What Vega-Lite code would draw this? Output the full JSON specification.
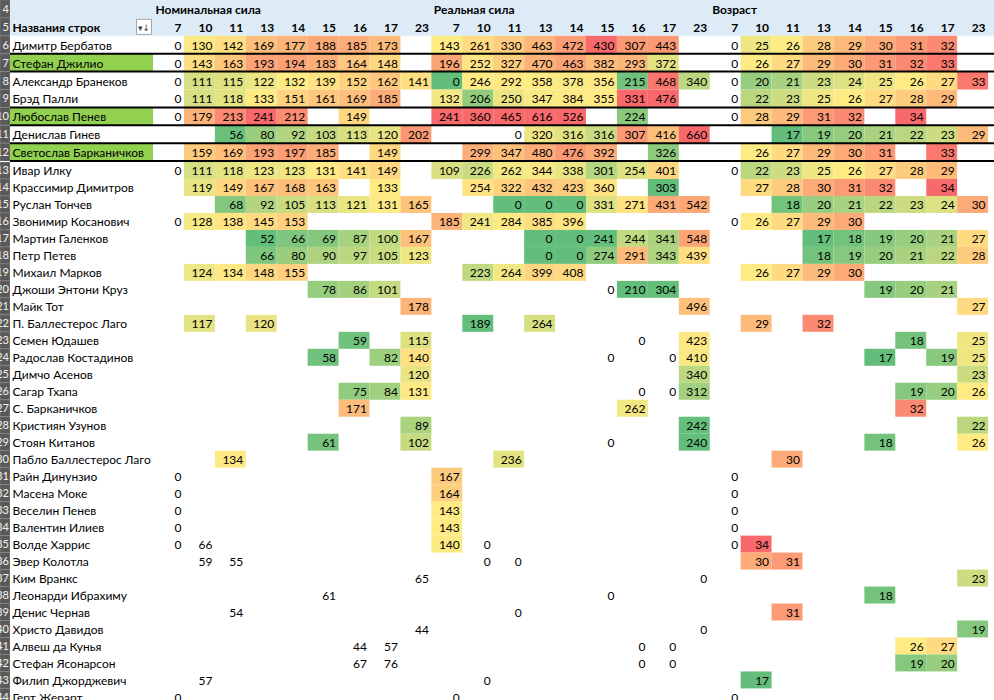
{
  "$schema": "https://vega.github.io/schema/vega-lite/v6.json",
  "background": "white",
  "padding": 0,
  "spacing": 0,
  "bounds": "flush",
  "columns": 3,
  "resolve": {"scale": {"x": "independent", "y": "independent", "color": "independent"}},
  "config": {
    "view": {"stroke": null},
    "text": {"font": "Lato", "fontSize": 12, "baseline": "middle", "color": "#000000"}
  },
  "datasets": {
    "hdr": [
      {"n": "h4", "r": 4, "t": ""},
      {"n": "h5", "r": 5, "t": "Названия строк"}
    ],
    "players": [
      {"n": "Димитр Бербатов", "r": 6},
      {"n": "Стефан Джилио", "r": 7},
      {"n": "Александр Бранеков", "r": 8},
      {"n": "Брэд Палли", "r": 9},
      {"n": "Любослав Пенев", "r": 10},
      {"n": "Денислав Гинев", "r": 11},
      {"n": "Светослав Барканичков", "r": 12},
      {"n": "Ивар Илку", "r": 13},
      {"n": "Крассимир Димитров", "r": 14},
      {"n": "Руслан Тончев", "r": 15},
      {"n": "Звонимир Косанович", "r": 16},
      {"n": "Мартин Галенков", "r": 17},
      {"n": "Петр Петев", "r": 18},
      {"n": "Михаил Марков", "r": 19},
      {"n": "Джоши Энтони Круз", "r": 20},
      {"n": "Майк Тот", "r": 21},
      {"n": "П. Баллестерос Лаго", "r": 22},
      {"n": "Семен Юдашев", "r": 23},
      {"n": "Радослав Костадинов", "r": 24},
      {"n": "Димчо Асенов", "r": 25},
      {"n": "Сагар Тхапа", "r": 26},
      {"n": "С. Барканичков", "r": 27},
      {"n": "Кристиян Узунов", "r": 28},
      {"n": "Стоян Китанов", "r": 29},
      {"n": "Пабло Баллестерос Лаго", "r": 30},
      {"n": "Райн Динунзио", "r": 31},
      {"n": "Масена Моке", "r": 32},
      {"n": "Веселин Пенев", "r": 33},
      {"n": "Валентин Илиев", "r": 34},
      {"n": "Волде Харрис", "r": 35},
      {"n": "Эвер Колотла", "r": 36},
      {"n": "Ким Вранкс", "r": 37},
      {"n": "Леонарди Ибрахиму", "r": 38},
      {"n": "Денис Чернав", "r": 39},
      {"n": "Христо Давидов", "r": 40},
      {"n": "Алвеш да Кунья", "r": 41},
      {"n": "Стефан Ясонарсон", "r": 42},
      {"n": "Филип Джорджевич", "r": 43},
      {"n": "Герт Жерарт", "r": 44}
    ],
    "cols": [
      {"c": "N7", "k": "7"}, {"c": "N10", "k": "10"}, {"c": "N11", "k": "11"}, {"c": "N13", "k": "13"}, {"c": "N14", "k": "14"}, {"c": "N15", "k": "15"}, {"c": "N16", "k": "16"}, {"c": "N17", "k": "17"}, {"c": "N23", "k": "23"},
      {"c": "R7", "k": "7"}, {"c": "R10", "k": "10"}, {"c": "R11", "k": "11"}, {"c": "R13", "k": "13"}, {"c": "R14", "k": "14"}, {"c": "R15", "k": "15"}, {"c": "R16", "k": "16"}, {"c": "R17", "k": "17"}, {"c": "R23", "k": "23"},
      {"c": "V7", "k": "7"}, {"c": "V10", "k": "10"}, {"c": "V11", "k": "11"}, {"c": "V13", "k": "13"}, {"c": "V14", "k": "14"}, {"c": "V15", "k": "15"}, {"c": "V16", "k": "16"}, {"c": "V17", "k": "17"}, {"c": "V23", "k": "23"}
    ],
    "groups": [
      {"c": "N7", "t": "Номинальная сила"},
      {"c": "R7", "t": "Реальная сила"},
      {"c": "V7", "t": "Возраст"}
    ],
    "cells": [
      {"n": "Димитр Бербатов", "c": "N10", "v": 130}, {"n": "Димитр Бербатов", "c": "N11", "v": 142}, {"n": "Димитр Бербатов", "c": "N13", "v": 169}, {"n": "Димитр Бербатов", "c": "N14", "v": 177}, {"n": "Димитр Бербатов", "c": "N15", "v": 188}, {"n": "Димитр Бербатов", "c": "N16", "v": 185}, {"n": "Димитр Бербатов", "c": "N17", "v": 173},
      {"n": "Димитр Бербатов", "c": "R7", "v": 143}, {"n": "Димитр Бербатов", "c": "R10", "v": 261}, {"n": "Димитр Бербатов", "c": "R11", "v": 330}, {"n": "Димитр Бербатов", "c": "R13", "v": 463}, {"n": "Димитр Бербатов", "c": "R14", "v": 472}, {"n": "Димитр Бербатов", "c": "R15", "v": 430}, {"n": "Димитр Бербатов", "c": "R16", "v": 307}, {"n": "Димитр Бербатов", "c": "R17", "v": 443},
      {"n": "Димитр Бербатов", "c": "V10", "v": 25}, {"n": "Димитр Бербатов", "c": "V11", "v": 26}, {"n": "Димитр Бербатов", "c": "V13", "v": 28}, {"n": "Димитр Бербатов", "c": "V14", "v": 29}, {"n": "Димитр Бербатов", "c": "V15", "v": 30}, {"n": "Димитр Бербатов", "c": "V16", "v": 31}, {"n": "Димитр Бербатов", "c": "V17", "v": 32},

      {"n": "Стефан Джилио", "c": "N10", "v": 143}, {"n": "Стефан Джилио", "c": "N11", "v": 163}, {"n": "Стефан Джилио", "c": "N13", "v": 193}, {"n": "Стефан Джилио", "c": "N14", "v": 194}, {"n": "Стефан Джилио", "c": "N15", "v": 183}, {"n": "Стефан Джилио", "c": "N16", "v": 164}, {"n": "Стефан Джилио", "c": "N17", "v": 148},
      {"n": "Стефан Джилио", "c": "R7", "v": 196}, {"n": "Стефан Джилио", "c": "R10", "v": 252}, {"n": "Стефан Джилио", "c": "R11", "v": 327}, {"n": "Стефан Джилио", "c": "R13", "v": 470}, {"n": "Стефан Джилио", "c": "R14", "v": 463}, {"n": "Стефан Джилио", "c": "R15", "v": 382}, {"n": "Стефан Джилио", "c": "R16", "v": 293}, {"n": "Стефан Джилио", "c": "R17", "v": 372},
      {"n": "Стефан Джилио", "c": "V10", "v": 26}, {"n": "Стефан Джилио", "c": "V11", "v": 27}, {"n": "Стефан Джилио", "c": "V13", "v": 29}, {"n": "Стефан Джилио", "c": "V14", "v": 30}, {"n": "Стефан Джилио", "c": "V15", "v": 31}, {"n": "Стефан Джилио", "c": "V16", "v": 32}, {"n": "Стефан Джилио", "c": "V17", "v": 33},

      {"n": "Александр Бранеков", "c": "N10", "v": 111}, {"n": "Александр Бранеков", "c": "N11", "v": 115}, {"n": "Александр Бранеков", "c": "N13", "v": 122}, {"n": "Александр Бранеков", "c": "N14", "v": 132}, {"n": "Александр Бранеков", "c": "N15", "v": 139}, {"n": "Александр Бранеков", "c": "N16", "v": 152}, {"n": "Александр Бранеков", "c": "N17", "v": 162}, {"n": "Александр Бранеков", "c": "N23", "v": 141},
      {"n": "Александр Бранеков", "c": "R7", "v": 0}, {"n": "Александр Бранеков", "c": "R10", "v": 246}, {"n": "Александр Бранеков", "c": "R11", "v": 292}, {"n": "Александр Бранеков", "c": "R13", "v": 358}, {"n": "Александр Бранеков", "c": "R14", "v": 378}, {"n": "Александр Бранеков", "c": "R15", "v": 356}, {"n": "Александр Бранеков", "c": "R16", "v": 215}, {"n": "Александр Бранеков", "c": "R17", "v": 468}, {"n": "Александр Бранеков", "c": "R23", "v": 340},
      {"n": "Александр Бранеков", "c": "V10", "v": 20}, {"n": "Александр Бранеков", "c": "V11", "v": 21}, {"n": "Александр Бранеков", "c": "V13", "v": 23}, {"n": "Александр Бранеков", "c": "V14", "v": 24}, {"n": "Александр Бранеков", "c": "V15", "v": 25}, {"n": "Александр Бранеков", "c": "V16", "v": 26}, {"n": "Александр Бранеков", "c": "V17", "v": 27}, {"n": "Александр Бранеков", "c": "V23", "v": 33},

      {"n": "Брэд Палли", "c": "N10", "v": 111}, {"n": "Брэд Палли", "c": "N11", "v": 118}, {"n": "Брэд Палли", "c": "N13", "v": 133}, {"n": "Брэд Палли", "c": "N14", "v": 151}, {"n": "Брэд Палли", "c": "N15", "v": 161}, {"n": "Брэд Палли", "c": "N16", "v": 169}, {"n": "Брэд Палли", "c": "N17", "v": 185},
      {"n": "Брэд Палли", "c": "R7", "v": 132}, {"n": "Брэд Палли", "c": "R10", "v": 206}, {"n": "Брэд Палли", "c": "R11", "v": 250}, {"n": "Брэд Палли", "c": "R13", "v": 347}, {"n": "Брэд Палли", "c": "R14", "v": 384}, {"n": "Брэд Палли", "c": "R15", "v": 355}, {"n": "Брэд Палли", "c": "R16", "v": 331}, {"n": "Брэд Палли", "c": "R17", "v": 476},
      {"n": "Брэд Палли", "c": "V10", "v": 22}, {"n": "Брэд Палли", "c": "V11", "v": 23}, {"n": "Брэд Палли", "c": "V13", "v": 25}, {"n": "Брэд Палли", "c": "V14", "v": 26}, {"n": "Брэд Палли", "c": "V15", "v": 27}, {"n": "Брэд Палли", "c": "V16", "v": 28}, {"n": "Брэд Палли", "c": "V17", "v": 29},

      {"n": "Любослав Пенев", "c": "N10", "v": 179}, {"n": "Любослав Пенев", "c": "N11", "v": 213}, {"n": "Любослав Пенев", "c": "N13", "v": 241}, {"n": "Любослав Пенев", "c": "N14", "v": 212}, {"n": "Любослав Пенев", "c": "N16", "v": 149},
      {"n": "Любослав Пенев", "c": "R7", "v": 241}, {"n": "Любослав Пенев", "c": "R10", "v": 360}, {"n": "Любослав Пенев", "c": "R11", "v": 465}, {"n": "Любослав Пенев", "c": "R13", "v": 616}, {"n": "Любослав Пенев", "c": "R14", "v": 526}, {"n": "Любослав Пенев", "c": "R16", "v": 224},
      {"n": "Любослав Пенев", "c": "V10", "v": 28}, {"n": "Любослав Пенев", "c": "V11", "v": 29}, {"n": "Любослав Пенев", "c": "V13", "v": 31}, {"n": "Любослав Пенев", "c": "V14", "v": 32}, {"n": "Любослав Пенев", "c": "V16", "v": 34},

      {"n": "Денислав Гинев", "c": "N11", "v": 56}, {"n": "Денислав Гинев", "c": "N13", "v": 80}, {"n": "Денислав Гинев", "c": "N14", "v": 92}, {"n": "Денислав Гинев", "c": "N15", "v": 103}, {"n": "Денислав Гинев", "c": "N16", "v": 113}, {"n": "Денислав Гинев", "c": "N17", "v": 120}, {"n": "Денислав Гинев", "c": "N23", "v": 202},
      {"n": "Денислав Гинев", "c": "R13", "v": 320}, {"n": "Денислав Гинев", "c": "R14", "v": 316}, {"n": "Денислав Гинев", "c": "R15", "v": 316}, {"n": "Денислав Гинев", "c": "R16", "v": 307}, {"n": "Денислав Гинев", "c": "R17", "v": 416}, {"n": "Денислав Гинев", "c": "R23", "v": 660},
      {"n": "Денислав Гинев", "c": "V11", "v": 17}, {"n": "Денислав Гинев", "c": "V13", "v": 19}, {"n": "Денислав Гинев", "c": "V14", "v": 20}, {"n": "Денислав Гинев", "c": "V15", "v": 21}, {"n": "Денислав Гинев", "c": "V16", "v": 22}, {"n": "Денислав Гинев", "c": "V17", "v": 23}, {"n": "Денислав Гинев", "c": "V23", "v": 29},

      {"n": "Светослав Барканичков", "c": "N10", "v": 159}, {"n": "Светослав Барканичков", "c": "N11", "v": 169}, {"n": "Светослав Барканичков", "c": "N13", "v": 193}, {"n": "Светослав Барканичков", "c": "N14", "v": 197}, {"n": "Светослав Барканичков", "c": "N15", "v": 185}, {"n": "Светослав Барканичков", "c": "N17", "v": 149},
      {"n": "Светослав Барканичков", "c": "R10", "v": 299}, {"n": "Светослав Барканичков", "c": "R11", "v": 347}, {"n": "Светослав Барканичков", "c": "R13", "v": 480}, {"n": "Светослав Барканичков", "c": "R14", "v": 476}, {"n": "Светослав Барканичков", "c": "R15", "v": 392}, {"n": "Светослав Барканичков", "c": "R17", "v": 326},
      {"n": "Светослав Барканичков", "c": "V10", "v": 26}, {"n": "Светослав Барканичков", "c": "V11", "v": 27}, {"n": "Светослав Барканичков", "c": "V13", "v": 29}, {"n": "Светослав Барканичков", "c": "V14", "v": 30}, {"n": "Светослав Барканичков", "c": "V15", "v": 31}, {"n": "Светослав Барканичков", "c": "V17", "v": 33},

      {"n": "Ивар Илку", "c": "N10", "v": 111}, {"n": "Ивар Илку", "c": "N11", "v": 118}, {"n": "Ивар Илку", "c": "N13", "v": 123}, {"n": "Ивар Илку", "c": "N14", "v": 123}, {"n": "Ивар Илку", "c": "N15", "v": 131}, {"n": "Ивар Илку", "c": "N16", "v": 141}, {"n": "Ивар Илку", "c": "N17", "v": 149},
      {"n": "Ивар Илку", "c": "R7", "v": 109}, {"n": "Ивар Илку", "c": "R10", "v": 226}, {"n": "Ивар Илку", "c": "R11", "v": 262}, {"n": "Ивар Илку", "c": "R13", "v": 344}, {"n": "Ивар Илку", "c": "R14", "v": 338}, {"n": "Ивар Илку", "c": "R15", "v": 301}, {"n": "Ивар Илку", "c": "R16", "v": 254}, {"n": "Ивар Илку", "c": "R17", "v": 401},
      {"n": "Ивар Илку", "c": "V10", "v": 22}, {"n": "Ивар Илку", "c": "V11", "v": 23}, {"n": "Ивар Илку", "c": "V13", "v": 25}, {"n": "Ивар Илку", "c": "V14", "v": 26}, {"n": "Ивар Илку", "c": "V15", "v": 27}, {"n": "Ивар Илку", "c": "V16", "v": 28}, {"n": "Ивар Илку", "c": "V17", "v": 29},

      {"n": "Крассимир Димитров", "c": "N10", "v": 119}, {"n": "Крассимир Димитров", "c": "N11", "v": 149}, {"n": "Крассимир Димитров", "c": "N13", "v": 167}, {"n": "Крассимир Димитров", "c": "N14", "v": 168}, {"n": "Крассимир Димитров", "c": "N15", "v": 163}, {"n": "Крассимир Димитров", "c": "N17", "v": 133},
      {"n": "Крассимир Димитров", "c": "R10", "v": 254}, {"n": "Крассимир Димитров", "c": "R11", "v": 322}, {"n": "Крассимир Димитров", "c": "R13", "v": 432}, {"n": "Крассимир Димитров", "c": "R14", "v": 423}, {"n": "Крассимир Димитров", "c": "R15", "v": 360}, {"n": "Крассимир Димитров", "c": "R17", "v": 303},
      {"n": "Крассимир Димитров", "c": "V10", "v": 27}, {"n": "Крассимир Димитров", "c": "V11", "v": 28}, {"n": "Крассимир Димитров", "c": "V13", "v": 30}, {"n": "Крассимир Димитров", "c": "V14", "v": 31}, {"n": "Крассимир Димитров", "c": "V15", "v": 32}, {"n": "Крассимир Димитров", "c": "V17", "v": 34},

      {"n": "Руслан Тончев", "c": "N11", "v": 68}, {"n": "Руслан Тончев", "c": "N13", "v": 92}, {"n": "Руслан Тончев", "c": "N14", "v": 105}, {"n": "Руслан Тончев", "c": "N15", "v": 113}, {"n": "Руслан Тончев", "c": "N16", "v": 121}, {"n": "Руслан Тончев", "c": "N17", "v": 131}, {"n": "Руслан Тончев", "c": "N23", "v": 165},
      {"n": "Руслан Тончев", "c": "R11", "v": 0}, {"n": "Руслан Тончев", "c": "R13", "v": 0}, {"n": "Руслан Тончев", "c": "R14", "v": 0}, {"n": "Руслан Тончев", "c": "R15", "v": 331}, {"n": "Руслан Тончев", "c": "R16", "v": 271}, {"n": "Руслан Тончев", "c": "R17", "v": 431}, {"n": "Руслан Тончев", "c": "R23", "v": 542},
      {"n": "Руслан Тончев", "c": "V11", "v": 18}, {"n": "Руслан Тончев", "c": "V13", "v": 20}, {"n": "Руслан Тончев", "c": "V14", "v": 21}, {"n": "Руслан Тончев", "c": "V15", "v": 22}, {"n": "Руслан Тончев", "c": "V16", "v": 23}, {"n": "Руслан Тончев", "c": "V17", "v": 24}, {"n": "Руслан Тончев", "c": "V23", "v": 30},

      {"n": "Звонимир Косанович", "c": "N10", "v": 128}, {"n": "Звонимир Косанович", "c": "N11", "v": 138}, {"n": "Звонимир Косанович", "c": "N13", "v": 145}, {"n": "Звонимир Косанович", "c": "N14", "v": 153},
      {"n": "Звонимир Косанович", "c": "R7", "v": 185}, {"n": "Звонимир Косанович", "c": "R10", "v": 241}, {"n": "Звонимир Косанович", "c": "R11", "v": 284}, {"n": "Звонимир Косанович", "c": "R13", "v": 385}, {"n": "Звонимир Косанович", "c": "R14", "v": 396},
      {"n": "Звонимир Косанович", "c": "V10", "v": 26}, {"n": "Звонимир Косанович", "c": "V11", "v": 27}, {"n": "Звонимир Косанович", "c": "V13", "v": 29}, {"n": "Звонимир Косанович", "c": "V14", "v": 30},

      {"n": "Мартин Галенков", "c": "N13", "v": 52}, {"n": "Мартин Галенков", "c": "N14", "v": 66}, {"n": "Мартин Галенков", "c": "N15", "v": 69}, {"n": "Мартин Галенков", "c": "N16", "v": 87}, {"n": "Мартин Галенков", "c": "N17", "v": 100}, {"n": "Мартин Галенков", "c": "N23", "v": 167},
      {"n": "Мартин Галенков", "c": "R13", "v": 0}, {"n": "Мартин Галенков", "c": "R14", "v": 0}, {"n": "Мартин Галенков", "c": "R15", "v": 241}, {"n": "Мартин Галенков", "c": "R16", "v": 244}, {"n": "Мартин Галенков", "c": "R17", "v": 341}, {"n": "Мартин Галенков", "c": "R23", "v": 548},
      {"n": "Мартин Галенков", "c": "V13", "v": 17}, {"n": "Мартин Галенков", "c": "V14", "v": 18}, {"n": "Мартин Галенков", "c": "V15", "v": 19}, {"n": "Мартин Галенков", "c": "V16", "v": 20}, {"n": "Мартин Галенков", "c": "V17", "v": 21}, {"n": "Мартин Галенков", "c": "V23", "v": 27},

      {"n": "Петр Петев", "c": "N13", "v": 66}, {"n": "Петр Петев", "c": "N14", "v": 80}, {"n": "Петр Петев", "c": "N15", "v": 90}, {"n": "Петр Петев", "c": "N16", "v": 97}, {"n": "Петр Петев", "c": "N17", "v": 105}, {"n": "Петр Петев", "c": "N23", "v": 123},
      {"n": "Петр Петев", "c": "R13", "v": 0}, {"n": "Петр Петев", "c": "R14", "v": 0}, {"n": "Петр Петев", "c": "R15", "v": 274}, {"n": "Петр Петев", "c": "R16", "v": 291}, {"n": "Петр Петев", "c": "R17", "v": 343}, {"n": "Петр Петев", "c": "R23", "v": 439},
      {"n": "Петр Петев", "c": "V13", "v": 18}, {"n": "Петр Петев", "c": "V14", "v": 19}, {"n": "Петр Петев", "c": "V15", "v": 20}, {"n": "Петр Петев", "c": "V16", "v": 21}, {"n": "Петр Петев", "c": "V17", "v": 22}, {"n": "Петр Петев", "c": "V23", "v": 28},

      {"n": "Михаил Марков", "c": "N10", "v": 124}, {"n": "Михаил Марков", "c": "N11", "v": 134}, {"n": "Михаил Марков", "c": "N13", "v": 148}, {"n": "Михаил Марков", "c": "N14", "v": 155},
      {"n": "Михаил Марков", "c": "R10", "v": 223}, {"n": "Михаил Марков", "c": "R11", "v": 264}, {"n": "Михаил Марков", "c": "R13", "v": 399}, {"n": "Михаил Марков", "c": "R14", "v": 408},
      {"n": "Михаил Марков", "c": "V10", "v": 26}, {"n": "Михаил Марков", "c": "V11", "v": 27}, {"n": "Михаил Марков", "c": "V13", "v": 29}, {"n": "Михаил Марков", "c": "V14", "v": 30},

      {"n": "Джоши Энтони Круз", "c": "N15", "v": 78}, {"n": "Джоши Энтони Круз", "c": "N16", "v": 86}, {"n": "Джоши Энтони Круз", "c": "N17", "v": 101},
      {"n": "Джоши Энтони Круз", "c": "R16", "v": 210}, {"n": "Джоши Энтони Круз", "c": "R17", "v": 304},
      {"n": "Джоши Энтони Круз", "c": "V15", "v": 19}, {"n": "Джоши Энтони Круз", "c": "V16", "v": 20}, {"n": "Джоши Энтони Круз", "c": "V17", "v": 21},

      {"n": "Майк Тот", "c": "N23", "v": 178}, {"n": "Майк Тот", "c": "R23", "v": 496}, {"n": "Майк Тот", "c": "V23", "v": 27},

      {"n": "П. Баллестерос Лаго", "c": "N10", "v": 117}, {"n": "П. Баллестерос Лаго", "c": "N13", "v": 120},
      {"n": "П. Баллестерос Лаго", "c": "R10", "v": 189}, {"n": "П. Баллестерос Лаго", "c": "R13", "v": 264},
      {"n": "П. Баллестерос Лаго", "c": "V10", "v": 29}, {"n": "П. Баллестерос Лаго", "c": "V13", "v": 32},

      {"n": "Семен Юдашев", "c": "N16", "v": 59}, {"n": "Семен Юдашев", "c": "N23", "v": 115}, {"n": "Семен Юдашев", "c": "R23", "v": 423}, {"n": "Семен Юдашев", "c": "V16", "v": 18}, {"n": "Семен Юдашев", "c": "V23", "v": 25},

      {"n": "Радослав Костадинов", "c": "N15", "v": 58}, {"n": "Радослав Костадинов", "c": "N17", "v": 82}, {"n": "Радослав Костадинов", "c": "N23", "v": 140}, {"n": "Радослав Костадинов", "c": "R23", "v": 410},
      {"n": "Радослав Костадинов", "c": "V15", "v": 17}, {"n": "Радослав Костадинов", "c": "V17", "v": 19}, {"n": "Радослав Костадинов", "c": "V23", "v": 25},

      {"n": "Димчо Асенов", "c": "N23", "v": 120}, {"n": "Димчо Асенов", "c": "R23", "v": 340}, {"n": "Димчо Асенов", "c": "V23", "v": 23},

      {"n": "Сагар Тхапа", "c": "N16", "v": 75}, {"n": "Сагар Тхапа", "c": "N17", "v": 84}, {"n": "Сагар Тхапа", "c": "N23", "v": 131}, {"n": "Сагар Тхапа", "c": "R23", "v": 312},
      {"n": "Сагар Тхапа", "c": "V16", "v": 19}, {"n": "Сагар Тхапа", "c": "V17", "v": 20}, {"n": "Сагар Тхапа", "c": "V23", "v": 26},

      {"n": "С. Барканичков", "c": "N16", "v": 171}, {"n": "С. Барканичков", "c": "R16", "v": 262}, {"n": "С. Барканичков", "c": "V16", "v": 32},

      {"n": "Кристиян Узунов", "c": "N23", "v": 89}, {"n": "Кристиян Узунов", "c": "R23", "v": 242}, {"n": "Кристиян Узунов", "c": "V23", "v": 22},

      {"n": "Стоян Китанов", "c": "N15", "v": 61}, {"n": "Стоян Китанов", "c": "N23", "v": 102}, {"n": "Стоян Китанов", "c": "R23", "v": 240}, {"n": "Стоян Китанов", "c": "V15", "v": 18}, {"n": "Стоян Китанов", "c": "V23", "v": 26},

      {"n": "Пабло Баллестерос Лаго", "c": "N11", "v": 134}, {"n": "Пабло Баллестерос Лаго", "c": "R11", "v": 236}, {"n": "Пабло Баллестерос Лаго", "c": "V11", "v": 30},

      {"n": "Райн Динунзио", "c": "R7", "v": 167},
      {"n": "Масена Моке", "c": "R7", "v": 164},
      {"n": "Веселин Пенев", "c": "R7", "v": 143},
      {"n": "Валентин Илиев", "c": "R7", "v": 143},
      {"n": "Волде Харрис", "c": "R7", "v": 140}, {"n": "Волде Харрис", "c": "V10", "v": 34},
      {"n": "Эвер Колотла", "c": "V10", "v": 30}, {"n": "Эвер Колотла", "c": "V11", "v": 31},
      {"n": "Ким Вранкс", "c": "V23", "v": 23},
      {"n": "Леонарди Ибрахиму", "c": "V15", "v": 18},
      {"n": "Денис Чернав", "c": "V11", "v": 31},
      {"n": "Христо Давидов", "c": "V23", "v": 19},
      {"n": "Алвеш да Кунья", "c": "V16", "v": 26}, {"n": "Алвеш да Кунья", "c": "V17", "v": 27},
      {"n": "Стефан Ясонарсон", "c": "V16", "v": 19}, {"n": "Стефан Ясонарсон", "c": "V17", "v": 20},
      {"n": "Филип Джорджевич", "c": "V10", "v": 17}
    ],
    "plain": [
      {"n": "Димитр Бербатов", "c": "N7", "v": 0}, {"n": "Димитр Бербатов", "c": "V7", "v": 0},
      {"n": "Стефан Джилио", "c": "N7", "v": 0}, {"n": "Стефан Джилио", "c": "V7", "v": 0},
      {"n": "Александр Бранеков", "c": "N7", "v": 0}, {"n": "Александр Бранеков", "c": "V7", "v": 0},
      {"n": "Брэд Палли", "c": "N7", "v": 0}, {"n": "Брэд Палли", "c": "V7", "v": 0},
      {"n": "Любослав Пенев", "c": "N7", "v": 0}, {"n": "Любослав Пенев", "c": "V7", "v": 0},
      {"n": "Денислав Гинев", "c": "R11", "v": 0},
      {"n": "Ивар Илку", "c": "N7", "v": 0}, {"n": "Ивар Илку", "c": "V7", "v": 0},
      {"n": "Звонимир Косанович", "c": "N7", "v": 0}, {"n": "Звонимир Косанович", "c": "V7", "v": 0},
      {"n": "Джоши Энтони Круз", "c": "R15", "v": 0},
      {"n": "Семен Юдашев", "c": "R16", "v": 0},
      {"n": "Радослав Костадинов", "c": "R15", "v": 0}, {"n": "Радослав Костадинов", "c": "R17", "v": 0},
      {"n": "Сагар Тхапа", "c": "R16", "v": 0}, {"n": "Сагар Тхапа", "c": "R17", "v": 0},
      {"n": "Стоян Китанов", "c": "R15", "v": 0},
      {"n": "Райн Динунзио", "c": "N7", "v": 0}, {"n": "Райн Динунзио", "c": "V7", "v": 0},
      {"n": "Масена Моке", "c": "N7", "v": 0}, {"n": "Масена Моке", "c": "V7", "v": 0},
      {"n": "Веселин Пенев", "c": "N7", "v": 0}, {"n": "Веселин Пенев", "c": "V7", "v": 0},
      {"n": "Валентин Илиев", "c": "N7", "v": 0}, {"n": "Валентин Илиев", "c": "V7", "v": 0},
      {"n": "Волде Харрис", "c": "N7", "v": 0}, {"n": "Волде Харрис", "c": "N10", "v": 66}, {"n": "Волде Харрис", "c": "R10", "v": 0}, {"n": "Волде Харрис", "c": "V7", "v": 0},
      {"n": "Эвер Колотла", "c": "N10", "v": 59}, {"n": "Эвер Колотла", "c": "N11", "v": 55}, {"n": "Эвер Колотла", "c": "R10", "v": 0}, {"n": "Эвер Колотла", "c": "R11", "v": 0},
      {"n": "Ким Вранкс", "c": "N23", "v": 65}, {"n": "Ким Вранкс", "c": "R23", "v": 0},
      {"n": "Леонарди Ибрахиму", "c": "N15", "v": 61}, {"n": "Леонарди Ибрахиму", "c": "R15", "v": 0},
      {"n": "Денис Чернав", "c": "N11", "v": 54}, {"n": "Денис Чернав", "c": "R11", "v": 0},
      {"n": "Христо Давидов", "c": "N23", "v": 44}, {"n": "Христо Давидов", "c": "R23", "v": 0},
      {"n": "Алвеш да Кунья", "c": "N16", "v": 44}, {"n": "Алвеш да Кунья", "c": "N17", "v": 57}, {"n": "Алвеш да Кунья", "c": "R16", "v": 0}, {"n": "Алвеш да Кунья", "c": "R17", "v": 0},
      {"n": "Стефан Ясонарсон", "c": "N16", "v": 67}, {"n": "Стефан Ясонарсон", "c": "N17", "v": 76}, {"n": "Стефан Ясонарсон", "c": "R16", "v": 0}, {"n": "Стефан Ясонарсон", "c": "R17", "v": 0},
      {"n": "Филип Джорджевич", "c": "N10", "v": 57}, {"n": "Филип Джорджевич", "c": "R10", "v": 0},
      {"n": "Герт Жерарт", "c": "N7", "v": 0}, {"n": "Герт Жерарт", "c": "R7", "v": 0}, {"n": "Герт Жерарт", "c": "V7", "v": 0}
    ]
  },
  "concat": [
    {
      "width": 10, "height": 161.1,
      "layer": [
        {"data": {"name": "hdr"}, "mark": {"type": "rect", "fill": "#595959", "stroke": "#8c8c8c", "strokeWidth": 0.5, "clip": true},
         "encoding": {"y": {"field": "n", "type": "nominal", "scale": {"domain": ["h4","h5","Димитр Бербатов","Стефан Джилио","Александр Бранеков","Брэд Палли","Любослав Пенев","Денислав Гинев","Светослав Барканичков"], "range": [0, 161.1], "paddingInner": 0, "paddingOuter": 0}, "axis": null}}},
        {"data": {"name": "players"}, "transform": [{"filter": {"field": "n", "oneOf": ["Димитр Бербатов","Стефан Джилио","Александр Бранеков","Брэд Палли","Любослав Пенев","Денислав Гинев","Светослав Барканичков"]}}],
         "mark": {"type": "rect", "fill": "#595959", "stroke": "#8c8c8c", "strokeWidth": 0.5, "clip": true},
         "encoding": {"y": {"field": "n", "type": "nominal", "scale": {"domain": ["h4","h5","Димитр Бербатов","Стефан Джилио","Александр Бранеков","Брэд Палли","Любослав Пенев","Денислав Гинев","Светослав Барканичков"], "range": [0, 161.1], "paddingInner": 0, "paddingOuter": 0}, "axis": null}}},
        {"data": {"name": "hdr"}, "mark": {"type": "text", "align": "right", "dx": -1, "yOffset": 1, "color": "#f2f2f2", "fontSize": 11, "clip": true},
         "encoding": {
           "x": {"datum": "rn", "type": "nominal", "scale": {"type": "band", "domain": ["rn"], "range": [0, 10], "paddingInner": 0, "paddingOuter": 0}, "axis": null, "bandPosition": 1},
           "y": {"field": "n", "type": "nominal", "scale": {"domain": ["h4","h5","Димитр Бербатов","Стефан Джилио","Александр Бранеков","Брэд Палли","Любослав Пенев","Денислав Гинев","Светослав Барканичков"], "range": [0, 161.1], "paddingInner": 0, "paddingOuter": 0}, "axis": null},
           "text": {"field": "r"}}},
        {"data": {"name": "players"}, "transform": [{"filter": {"field": "n", "oneOf": ["Димитр Бербатов","Стефан Джилио","Александр Бранеков","Брэд Палли","Любослав Пенев","Денислав Гинев","Светослав Барканичков"]}}],
         "mark": {"type": "text", "align": "right", "dx": -1, "yOffset": 1, "color": "#f2f2f2", "fontSize": 11, "clip": true},
         "encoding": {
           "x": {"datum": "rn", "type": "nominal", "scale": {"type": "band", "domain": ["rn"], "range": [0, 10], "paddingInner": 0, "paddingOuter": 0}, "axis": null, "bandPosition": 1},
           "y": {"field": "n", "type": "nominal", "scale": {"domain": ["h4","h5","Димитр Бербатов","Стефан Джилио","Александр Бранеков","Брэд Палли","Любослав Пенев","Денислав Гинев","Светослав Барканичков"], "range": [0, 161.1], "paddingInner": 0, "paddingOuter": 0}, "axis": null},
           "text": {"field": "r"}}}
      ]
    },
    {
      "width": 143, "height": 161.1,
      "layer": [
        {"data": {"name": "hdr"}, "mark": {"type": "rect", "fill": "#DDEBF7"},
         "encoding": {"y": {"field": "n", "type": "nominal", "scale": {"domain": ["h4","h5","Димитр Бербатов","Стефан Джилио","Александр Бранеков","Брэд Палли","Любослав Пенев","Денислав Гинев","Светослав Барканичков"], "range": [0, 161.1], "paddingInner": 0, "paddingOuter": 0}, "axis": null}}},
        {"data": {"name": "players"}, "transform": [{"filter": {"field": "n", "oneOf": ["Стефан Джилио","Любослав Пенев","Светослав Барканичков"]}}],
         "mark": {"type": "rect", "fill": "#92D050"},
         "encoding": {"y": {"field": "n", "type": "nominal", "scale": {"domain": ["h4","h5","Димитр Бербатов","Стефан Джилио","Александр Бранеков","Брэд Палли","Любослав Пенев","Денислав Гинев","Светослав Барканичков"], "range": [0, 161.1], "paddingInner": 0, "paddingOuter": 0}, "axis": null}}},
        {"data": {"name": "players"}, "transform": [{"filter": {"field": "n", "oneOf": ["Димитр Бербатов","Стефан Джилио","Александр Бранеков","Брэд Палли","Любослав Пенев","Денислав Гинев","Светослав Барканичков"]}}],
         "mark": {"type": "text", "align": "left", "dx": 2.5, "yOffset": 1, "clip": true},
         "encoding": {
           "x": {"datum": "Названия строк", "type": "nominal", "scale": {"type": "band", "domain": ["Названия строк"], "range": [0, 143], "paddingInner": 0, "paddingOuter": 0}, "axis": null, "bandPosition": 0},
           "y": {"field": "n", "type": "nominal", "scale": {"domain": ["h4","h5","Димитр Бербатов","Стефан Джилио","Александр Бранеков","Брэд Палли","Любослав Пенев","Денислав Гинев","Светослав Барканичков"], "range": [0, 161.1], "paddingInner": 0, "paddingOuter": 0}, "axis": null},
           "text": {"field": "n"}}},
        {"data": {"name": "hdr"},
         "mark": {"type": "text", "align": "left", "dx": 2.5, "yOffset": 1, "fontWeight": "bold", "clip": true},
         "encoding": {
           "x": {"datum": "Названия строк", "type": "nominal", "scale": {"type": "band", "domain": ["Названия строк"], "range": [0, 143], "paddingInner": 0, "paddingOuter": 0}, "axis": null, "bandPosition": 0},
           "y": {"field": "n", "type": "nominal", "scale": {"domain": ["h4","h5","Димитр Бербатов","Стефан Джилио","Александр Бранеков","Брэд Палли","Любослав Пенев","Денислав Гинев","Светослав Барканичков"], "range": [0, 161.1], "paddingInner": 0, "paddingOuter": 0}, "axis": null},
           "text": {"field": "t"}}},
        {"data": {"name": "hdr"}, "transform": [{"filter": "datum.n === 'h5'"}],
         "mark": {"type": "point", "shape": "square", "size": 225, "filled": true, "fill": "#ffffff", "stroke": "#a6a6a6", "strokeWidth": 1, "opacity": 1, "xOffset": -9},
         "encoding": {
           "x": {"datum": "Названия строк", "type": "nominal", "scale": {"type": "band", "domain": ["Названия строк"], "range": [0, 143], "paddingInner": 0, "paddingOuter": 0}, "axis": null, "bandPosition": 1},
           "y": {"field": "n", "type": "nominal", "scale": {"domain": ["h4","h5","Димитр Бербатов","Стефан Джилио","Александр Бранеков","Брэд Палли","Любослав Пенев","Денислав Гинев","Светослав Барканичков"], "range": [0, 161.1], "paddingInner": 0, "paddingOuter": 0}, "axis": null}}},
        {"data": {"name": "hdr"}, "transform": [{"filter": "datum.n === 'h5'"}],
         "mark": {"type": "text", "align": "center", "dx": -9, "yOffset": 1, "font": "DejaVu Sans", "fontSize": 9, "color": "#404040", "text": "▾↓"},
         "encoding": {
           "x": {"datum": "Названия строк", "type": "nominal", "scale": {"type": "band", "domain": ["Названия строк"], "range": [0, 143], "paddingInner": 0, "paddingOuter": 0}, "axis": null, "bandPosition": 1},
           "y": {"field": "n", "type": "nominal", "scale": {"domain": ["h4","h5","Димитр Бербатов","Стефан Джилио","Александр Бранеков","Брэд Палли","Любослав Пенев","Денислав Гинев","Светослав Барканичков"], "range": [0, 161.1], "paddingInner": 0, "paddingOuter": 0}, "axis": null}}},
        {"data": {"name": "players"}, "transform": [{"filter": {"field": "n", "oneOf": ["Стефан Джилио","Любослав Пенев","Светослав Барканичков"]}}],
         "mark": {"type": "rule", "color": "#000000", "strokeWidth": 2},
         "encoding": {"y": {"field": "n", "type": "nominal", "bandPosition": 0, "scale": {"domain": ["h4","h5","Димитр Бербатов","Стефан Джилио","Александр Бранеков","Брэд Палли","Любослав Пенев","Денислав Гинев","Светослав Барканичков"], "range": [0, 161.1], "paddingInner": 0, "paddingOuter": 0}, "axis": null}}},
        {"data": {"name": "players"}, "transform": [{"filter": {"field": "n", "oneOf": ["Стефан Джилио","Любослав Пенев","Светослав Барканичков"]}}],
         "mark": {"type": "rule", "color": "#000000", "strokeWidth": 2},
         "encoding": {"y": {"field": "n", "type": "nominal", "bandPosition": 1, "scale": {"domain": ["h4","h5","Димитр Бербатов","Стефан Джилио","Александр Бранеков","Брэд Палли","Любослав Пенев","Денислав Гинев","Светослав Барканичков"], "range": [0, 161.1], "paddingInner": 0, "paddingOuter": 0}, "axis": null}}}
      ]
    },
    {
      "width": 841, "height": 161.1,
      "layer": [
        {"data": {"name": "hdr"}, "mark": {"type": "rect", "fill": "#DDEBF7"},
         "encoding": {"y": {"field": "n", "type": "nominal", "scale": {"domain": ["h4","h5","Димитр Бербатов","Стефан Джилио","Александр Бранеков","Брэд Палли","Любослав Пенев","Денислав Гинев","Светослав Барканичков"], "range": [0, 161.1], "paddingInner": 0, "paddingOuter": 0}, "axis": null}}},
        {"data": {"name": "cells"},
         "transform": [
           {"calculate": "substring(datum.c,0,1) === 'R' ? datum.c : substring(datum.c,0,1)", "as": "scope"},
           {"joinaggregate": [{"op": "min", "field": "v", "as": "mn"}, {"op": "max", "field": "v", "as": "mx"}, {"op": "median", "field": "v", "as": "md"}], "groupby": ["scope"]},
           {"calculate": "datum.v <= datum.md ? (datum.md > datum.mn ? 0.5*(datum.v-datum.mn)/(datum.md-datum.mn) : 0.5) : (datum.mx > datum.md ? 0.5+0.5*(datum.v-datum.md)/(datum.mx-datum.md) : 0.5)", "as": "t"},
           {"filter": {"field": "n", "oneOf": ["Димитр Бербатов","Стефан Джилио","Александр Бранеков","Брэд Палли","Любослав Пенев","Денислав Гинев","Светослав Барканичков"]}}
         ],
         "mark": {"type": "rect", "clip": true},
         "encoding": {
           "x": {"field": "c", "type": "nominal", "scale": {"type": "band", "domain": ["N7","N10","N11","N13","N14","N15","N16","N17","N23","R7","R10","R11","R13","R14","R15","R16","R17","R23","V7","V10","V11","V13","V14","V15","V16","V17","V23","nx"], "range": [0, 866], "paddingInner": 0, "paddingOuter": 0}, "axis": null},
           "y": {"field": "n", "type": "nominal", "scale": {"domain": ["h4","h5","Димитр Бербатов","Стефан Джилио","Александр Бранеков","Брэд Палли","Любослав Пенев","Денислав Гинев","Светослав Барканичков"], "range": [0, 161.1], "paddingInner": 0, "paddingOuter": 0}, "axis": null},
           "color": {"field": "t", "type": "quantitative", "scale": {"domain": [0, 0.5, 1], "range": ["#63BE7B", "#FFEB84", "#F8696B"], "interpolate": "rgb"}, "legend": null}}},
        {"data": {"name": "cells"},
         "transform": [{"filter": {"field": "n", "oneOf": ["Димитр Бербатов","Стефан Джилио","Александр Бранеков","Брэд Палли","Любослав Пенев","Денислав Гинев","Светослав Барканичков"]}}],
         "mark": {"type": "text", "align": "right", "dx": -2.5, "yOffset": 1, "clip": true},
         "encoding": {
           "x": {"field": "c", "type": "nominal", "bandPosition": 1, "scale": {"type": "band", "domain": ["N7","N10","N11","N13","N14","N15","N16","N17","N23","R7","R10","R11","R13","R14","R15","R16","R17","R23","V7","V10","V11","V13","V14","V15","V16","V17","V23","nx"], "range": [0, 866], "paddingInner": 0, "paddingOuter": 0}, "axis": null},
           "y": {"field": "n", "type": "nominal", "scale": {"domain": ["h4","h5","Димитр Бербатов","Стефан Джилио","Александр Бранеков","Брэд Палли","Любослав Пенев","Денислав Гинев","Светослав Барканичков"], "range": [0, 161.1], "paddingInner": 0, "paddingOuter": 0}, "axis": null},
           "text": {"field": "v", "type": "quantitative", "format": "d"}}},
        {"data": {"name": "plain"},
         "transform": [{"filter": {"field": "n", "oneOf": ["Димитр Бербатов","Стефан Джилио","Александр Бранеков","Брэд Палли","Любослав Пенев","Денислав Гинев","Светослав Барканичков"]}}],
         "mark": {"type": "text", "align": "right", "dx": -2.5, "yOffset": 1, "clip": true},
         "encoding": {
           "x": {"field": "c", "type": "nominal", "bandPosition": 1, "scale": {"type": "band", "domain": ["N7","N10","N11","N13","N14","N15","N16","N17","N23","R7","R10","R11","R13","R14","R15","R16","R17","R23","V7","V10","V11","V13","V14","V15","V16","V17","V23","nx"], "range": [0, 866], "paddingInner": 0, "paddingOuter": 0}, "axis": null},
           "y": {"field": "n", "type": "nominal", "scale": {"domain": ["h4","h5","Димитр Бербатов","Стефан Джилио","Александр Бранеков","Брэд Палли","Любослав Пенев","Денислав Гинев","Светослав Барканичков"], "range": [0, 161.1], "paddingInner": 0, "paddingOuter": 0}, "axis": null},
           "text": {"field": "v", "type": "quantitative", "format": "d"}}},
        {"data": {"name": "cols"},
         "mark": {"type": "text", "align": "right", "dx": -2.5, "yOffset": 1, "fontWeight": "bold", "clip": true},
         "encoding": {
           "x": {"field": "c", "type": "nominal", "bandPosition": 1, "scale": {"type": "band", "domain": ["N7","N10","N11","N13","N14","N15","N16","N17","N23","R7","R10","R11","R13","R14","R15","R16","R17","R23","V7","V10","V11","V13","V14","V15","V16","V17","V23","nx"], "range": [0, 866], "paddingInner": 0, "paddingOuter": 0}, "axis": null},
           "y": {"datum": "h5", "type": "nominal", "scale": {"domain": ["h4","h5","Димитр Бербатов","Стефан Джилио","Александр Бранеков","Брэд Палли","Любослав Пенев","Денислав Гинев","Светослав Барканичков"], "range": [0, 161.1], "paddingInner": 0, "paddingOuter": 0}, "axis": null},
           "text": {"field": "k"}}},
        {"data": {"name": "groups"},
         "mark": {"type": "text", "align": "left", "dx": 2.5, "yOffset": 1, "fontWeight": "bold", "clip": true},
         "encoding": {
           "x": {"field": "c", "type": "nominal", "bandPosition": 0, "scale": {"type": "band", "domain": ["N7","N10","N11","N13","N14","N15","N16","N17","N23","R7","R10","R11","R13","R14","R15","R16","R17","R23","V7","V10","V11","V13","V14","V15","V16","V17","V23","nx"], "range": [0, 866], "paddingInner": 0, "paddingOuter": 0}, "axis": null},
           "y": {"datum": "h4", "type": "nominal", "scale": {"domain": ["h4","h5","Димитр Бербатов","Стефан Джилио","Александр Бранеков","Брэд Палли","Любослав Пенев","Денислав Гинев","Светослав Барканичков"], "range": [0, 161.1], "paddingInner": 0, "paddingOuter": 0}, "axis": null},
           "text": {"field": "t"}}},
        {"data": {"name": "players"}, "transform": [{"filter": {"field": "n", "oneOf": ["Стефан Джилио","Любослав Пенев","Светослав Барканичков"]}}],
         "mark": {"type": "rule", "color": "#000000", "strokeWidth": 2},
         "encoding": {"y": {"field": "n", "type": "nominal", "bandPosition": 0, "scale": {"domain": ["h4","h5","Димитр Бербатов","Стефан Джилио","Александр Бранеков","Брэд Палли","Любослав Пенев","Денислав Гинев","Светослав Барканичков"], "range": [0, 161.1], "paddingInner": 0, "paddingOuter": 0}, "axis": null}}},
        {"data": {"name": "players"}, "transform": [{"filter": {"field": "n", "oneOf": ["Стефан Джилио","Любослав Пенев","Светослав Барканичков"]}}],
         "mark": {"type": "rule", "color": "#000000", "strokeWidth": 2},
         "encoding": {"y": {"field": "n", "type": "nominal", "bandPosition": 1, "scale": {"domain": ["h4","h5","Димитр Бербатов","Стефан Джилио","Александр Бранеков","Брэд Палли","Любослав Пенев","Денислав Гинев","Светослав Барканичков"], "range": [0, 161.1], "paddingInner": 0, "paddingOuter": 0}, "axis": null}}}
      ]
    },
    {
      "width": 10, "height": 538.9,
      "layer": [
        {"data": {"name": "players"}, "transform": [{"filter": {"not": {"field": "n", "oneOf": ["Димитр Бербатов","Стефан Джилио","Александр Бранеков","Брэд Палли","Любослав Пенев","Денислав Гинев","Светослав Барканичков"]}}}],
         "mark": {"type": "rect", "fill": "#595959", "stroke": "#8c8c8c", "strokeWidth": 0.5, "clip": true},
         "encoding": {"y": {"field": "n", "type": "nominal", "scale": {"domain": ["Ивар Илку","Крассимир Димитров","Руслан Тончев","Звонимир Косанович","Мартин Галенков","Петр Петев","Михаил Марков","Джоши Энтони Круз","Майк Тот","П. Баллестерос Лаго","Семен Юдашев","Радослав Костадинов","Димчо Асенов","Сагар Тхапа","С. Барканичков","Кристиян Узунов","Стоян Китанов","Пабло Баллестерос Лаго","Райн Динунзио","Масена Моке","Веселин Пенев","Валентин Илиев","Волде Харрис","Эвер Колотла","Ким Вранкс","Леонарди Ибрахиму","Денис Чернав","Христо Давидов","Алвеш да Кунья","Стефан Ясонарсон","Филип Джорджевич","Герт Жерарт"], "range": [0, 543.4], "paddingInner": 0, "paddingOuter": 0}, "axis": null}}},
        {"data": {"name": "players"}, "transform": [{"filter": {"not": {"field": "n", "oneOf": ["Димитр Бербатов","Стефан Джилио","Александр Бранеков","Брэд Палли","Любослав Пенев","Денислав Гинев","Светослав Барканичков"]}}}],
         "mark": {"type": "text", "align": "right", "dx": -1, "yOffset": 1, "color": "#f2f2f2", "fontSize": 11, "clip": true},
         "encoding": {
           "x": {"datum": "rn", "type": "nominal", "scale": {"type": "band", "domain": ["rn"], "range": [0, 10], "paddingInner": 0, "paddingOuter": 0}, "axis": null, "bandPosition": 1},
           "y": {"field": "n", "type": "nominal", "scale": {"domain": ["Ивар Илку","Крассимир Димитров","Руслан Тончев","Звонимир Косанович","Мартин Галенков","Петр Петев","Михаил Марков","Джоши Энтони Круз","Майк Тот","П. Баллестерос Лаго","Семен Юдашев","Радослав Костадинов","Димчо Асенов","Сагар Тхапа","С. Барканичков","Кристиян Узунов","Стоян Китанов","Пабло Баллестерос Лаго","Райн Динунзио","Масена Моке","Веселин Пенев","Валентин Илиев","Волде Харрис","Эвер Колотла","Ким Вранкс","Леонарди Ибрахиму","Денис Чернав","Христо Давидов","Алвеш да Кунья","Стефан Ясонарсон","Филип Джорджевич","Герт Жерарт"], "range": [0, 543.4], "paddingInner": 0, "paddingOuter": 0}, "axis": null},
           "text": {"field": "r"}}}
      ]
    },
    {
      "width": 143, "height": 538.9,
      "layer": [
        {"data": {"name": "players"}, "transform": [{"filter": {"not": {"field": "n", "oneOf": ["Димитр Бербатов","Стефан Джилио","Александр Бранеков","Брэд Палли","Любослав Пенев","Денислав Гинев","Светослав Барканичков"]}}}],
         "mark": {"type": "text", "align": "left", "dx": 2.5, "yOffset": 1, "clip": true},
         "encoding": {
           "x": {"datum": "Названия строк", "type": "nominal", "scale": {"type": "band", "domain": ["Названия строк"], "range": [0, 143], "paddingInner": 0, "paddingOuter": 0}, "axis": null, "bandPosition": 0},
           "y": {"field": "n", "type": "nominal", "scale": {"domain": ["Ивар Илку","Крассимир Димитров","Руслан Тончев","Звонимир Косанович","Мартин Галенков","Петр Петев","Михаил Марков","Джоши Энтони Круз","Майк Тот","П. Баллестерос Лаго","Семен Юдашев","Радослав Костадинов","Димчо Асенов","Сагар Тхапа","С. Барканичков","Кристиян Узунов","Стоян Китанов","Пабло Баллестерос Лаго","Райн Динунзио","Масена Моке","Веселин Пенев","Валентин Илиев","Волде Харрис","Эвер Колотла","Ким Вранкс","Леонарди Ибрахиму","Денис Чернав","Христо Давидов","Алвеш да Кунья","Стефан Ясонарсон","Филип Джорджевич","Герт Жерарт"], "range": [0, 543.4], "paddingInner": 0, "paddingOuter": 0}, "axis": null},
           "text": {"field": "n"}}}
      ]
    },
    {
      "width": 841, "height": 538.9,
      "layer": [
        {"data": {"name": "cells"},
         "transform": [
           {"calculate": "substring(datum.c,0,1) === 'R' ? datum.c : substring(datum.c,0,1)", "as": "scope"},
           {"joinaggregate": [{"op": "min", "field": "v", "as": "mn"}, {"op": "max", "field": "v", "as": "mx"}, {"op": "median", "field": "v", "as": "md"}], "groupby": ["scope"]},
           {"calculate": "datum.v <= datum.md ? (datum.md > datum.mn ? 0.5*(datum.v-datum.mn)/(datum.md-datum.mn) : 0.5) : (datum.mx > datum.md ? 0.5+0.5*(datum.v-datum.md)/(datum.mx-datum.md) : 0.5)", "as": "t"},
           {"filter": {"not": {"field": "n", "oneOf": ["Димитр Бербатов","Стефан Джилио","Александр Бранеков","Брэд Палли","Любослав Пенев","Денислав Гинев","Светослав Барканичков"]}}}
         ],
         "mark": {"type": "rect", "clip": true},
         "encoding": {
           "x": {"field": "c", "type": "nominal", "scale": {"type": "band", "domain": ["N7","N10","N11","N13","N14","N15","N16","N17","N23","R7","R10","R11","R13","R14","R15","R16","R17","R23","V7","V10","V11","V13","V14","V15","V16","V17","V23","nx"], "range": [0, 866], "paddingInner": 0, "paddingOuter": 0}, "axis": null},
           "y": {"field": "n", "type": "nominal", "scale": {"domain": ["Ивар Илку","Крассимир Димитров","Руслан Тончев","Звонимир Косанович","Мартин Галенков","Петр Петев","Михаил Марков","Джоши Энтони Круз","Майк Тот","П. Баллестерос Лаго","Семен Юдашев","Радослав Костадинов","Димчо Асенов","Сагар Тхапа","С. Барканичков","Кристиян Узунов","Стоян Китанов","Пабло Баллестерос Лаго","Райн Динунзио","Масена Моке","Веселин Пенев","Валентин Илиев","Волде Харрис","Эвер Колотла","Ким Вранкс","Леонарди Ибрахиму","Денис Чернав","Христо Давидов","Алвеш да Кунья","Стефан Ясонарсон","Филип Джорджевич","Герт Жерарт"], "range": [0, 543.4], "paddingInner": 0, "paddingOuter": 0}, "axis": null},
           "color": {"field": "t", "type": "quantitative", "scale": {"domain": [0, 0.5, 1], "range": ["#63BE7B", "#FFEB84", "#F8696B"], "interpolate": "rgb"}, "legend": null}}},
        {"data": {"name": "cells"},
         "transform": [{"filter": {"not": {"field": "n", "oneOf": ["Димитр Бербатов","Стефан Джилио","Александр Бранеков","Брэд Палли","Любослав Пенев","Денислав Гинев","Светослав Барканичков"]}}}],
         "mark": {"type": "text", "align": "right", "dx": -2.5, "yOffset": 1, "clip": true},
         "encoding": {
           "x": {"field": "c", "type": "nominal", "bandPosition": 1, "scale": {"type": "band", "domain": ["N7","N10","N11","N13","N14","N15","N16","N17","N23","R7","R10","R11","R13","R14","R15","R16","R17","R23","V7","V10","V11","V13","V14","V15","V16","V17","V23","nx"], "range": [0, 866], "paddingInner": 0, "paddingOuter": 0}, "axis": null},
           "y": {"field": "n", "type": "nominal", "scale": {"domain": ["Ивар Илку","Крассимир Димитров","Руслан Тончев","Звонимир Косанович","Мартин Галенков","Петр Петев","Михаил Марков","Джоши Энтони Круз","Майк Тот","П. Баллестерос Лаго","Семен Юдашев","Радослав Костадинов","Димчо Асенов","Сагар Тхапа","С. Барканичков","Кристиян Узунов","Стоян Китанов","Пабло Баллестерос Лаго","Райн Динунзио","Масена Моке","Веселин Пенев","Валентин Илиев","Волде Харрис","Эвер Колотла","Ким Вранкс","Леонарди Ибрахиму","Денис Чернав","Христо Давидов","Алвеш да Кунья","Стефан Ясонарсон","Филип Джорджевич","Герт Жерарт"], "range": [0, 543.4], "paddingInner": 0, "paddingOuter": 0}, "axis": null},
           "text": {"field": "v", "type": "quantitative", "format": "d"}}},
        {"data": {"name": "plain"},
         "transform": [{"filter": {"not": {"field": "n", "oneOf": ["Димитр Бербатов","Стефан Джилио","Александр Бранеков","Брэд Палли","Любослав Пенев","Денислав Гинев","Светослав Барканичков"]}}}],
         "mark": {"type": "text", "align": "right", "dx": -2.5, "yOffset": 1, "clip": true},
         "encoding": {
           "x": {"field": "c", "type": "nominal", "bandPosition": 1, "scale": {"type": "band", "domain": ["N7","N10","N11","N13","N14","N15","N16","N17","N23","R7","R10","R11","R13","R14","R15","R16","R17","R23","V7","V10","V11","V13","V14","V15","V16","V17","V23","nx"], "range": [0, 866], "paddingInner": 0, "paddingOuter": 0}, "axis": null},
           "y": {"field": "n", "type": "nominal", "scale": {"domain": ["Ивар Илку","Крассимир Димитров","Руслан Тончев","Звонимир Косанович","Мартин Галенков","Петр Петев","Михаил Марков","Джоши Энтони Круз","Майк Тот","П. Баллестерос Лаго","Семен Юдашев","Радослав Костадинов","Димчо Асенов","Сагар Тхапа","С. Барканичков","Кристиян Узунов","Стоян Китанов","Пабло Баллестерос Лаго","Райн Динунзио","Масена Моке","Веселин Пенев","Валентин Илиев","Волде Харрис","Эвер Колотла","Ким Вранкс","Леонарди Ибрахиму","Денис Чернав","Христо Давидов","Алвеш да Кунья","Стефан Ясонарсон","Филип Джорджевич","Герт Жерарт"], "range": [0, 543.4], "paddingInner": 0, "paddingOuter": 0}, "axis": null},
           "text": {"field": "v", "type": "quantitative", "format": "d"}}}
      ]
    }
  ]
}
